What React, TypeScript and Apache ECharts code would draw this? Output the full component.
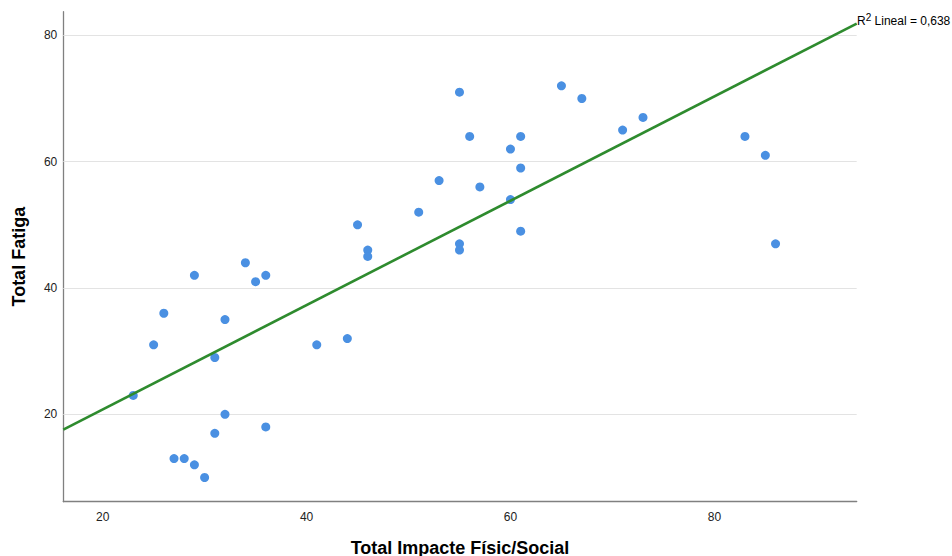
import React, { useEffect, useRef } from "react";
import * as echarts from "echarts";

const xValues = [23, 25, 26, 27, 28, 29, 29, 30, 31, 31, 32, 32, 34, 35, 36, 36, 41, 44, 45, 46, 46, 51, 53, 55, 55, 55, 56, 57, 60, 60, 61, 61, 61, 65, 67, 71, 73, 83, 85, 86];
const yValues = [23, 31, 36, 13, 13, 12, 42, 10, 29, 17, 35, 20, 44, 41, 42, 18, 31, 32, 50, 46, 45, 52, 57, 71, 47, 46, 64, 56, 62, 54, 64, 59, 49, 72, 70, 65, 67, 64, 61, 47];
const xTicks = [20, 40, 60, 80];
const yTicks = [20, 40, 60, 80];
const xRange = [16.14, 93.96];
const yRange = [6.17, 83.74];
const r2Label = "0,638";

const FONT = "'Liberation Sans', Arial, sans-serif";

function fit(xs: number[], ys: number[]) {
  const n = xs.length;
  const mx = xs.reduce((a, b) => a + b, 0) / n;
  const my = ys.reduce((a, b) => a + b, 0) / n;
  let sxy = 0, sxx = 0;
  for (let i = 0; i < n; i++) {
    sxy += (xs[i] - mx) * (ys[i] - my);
    sxx += (xs[i] - mx) ** 2;
  }
  const b = sxy / sxx;
  return { a: my - b * mx, b };
}

export default function App() {
  const ref = useRef<HTMLDivElement>(null);
  useEffect(() => {
    if (!ref.current) return;
    const chart = echarts.init(ref.current, null, { renderer: "svg" });
    const { a, b } = fit(xValues, yValues);
    const lineData = [
      [xRange[0], a + b * xRange[0]],
      [xRange[1], a + b * xRange[1]],
    ];
    const points = xValues.map((x, i) => [x, yValues[i]]);
    chart.setOption({
      animation: false,
      backgroundColor: "#ffffff",
      grid: {
        left: 63.3,
        right: 95.3,
        top: 11.7,
        bottom: 54.3,
        containLabel: false,
        outerBoundsMode: "none",
      },
      xAxis: {
        type: "value",
        min: xRange[0],
        max: xRange[1],
        name: "Total Impacte Físic/Social",
        nameLocation: "middle",
        nameGap: 37,
        nameTextStyle: { fontFamily: FONT, fontSize: 18, fontWeight: "bold", color: "#000" },
        axisLine: { show: true, lineStyle: { color: "#808080", width: 1.3 } },
        axisTick: { show: false },
        splitLine: { show: false },
        axisLabel: {
          customValues: xTicks,
          fontFamily: FONT,
          fontSize: 12,
          color: "#222",
          margin: 9,
        },
      },
      yAxis: {
        type: "value",
        min: yRange[0],
        max: yRange[1],
        name: "Total Fatiga",
        nameLocation: "middle",
        nameGap: 35,
        nameTextStyle: { fontFamily: FONT, fontSize: 18, fontWeight: "bold", color: "#000" },
        axisLine: { show: true, lineStyle: { color: "#808080", width: 1.3 } },
        axisTick: { show: false },
        splitLine: { show: false },
        axisLabel: {
          customValues: yTicks,
          fontFamily: FONT,
          fontSize: 12,
          color: "#222",
          margin: 6,
        },
      },
      series: [
        {
          type: "scatter",
          data: points,
          symbolSize: 9,
          itemStyle: { color: "#4a90e2", opacity: 1 },
          z: 3,
          markLine: {
            silent: true,
            symbol: "none",
            label: { show: false },
            lineStyle: { color: "#e3e3e3", width: 1, type: "solid" },
            data: yTicks.map((v) => ({ yAxis: v })),
            z: 1,
          },
        },
        {
          type: "line",
          data: lineData,
          symbol: "none",
          lineStyle: { color: "#2e8b2e", width: 2.6 },
          z: 4,
        },
      ],
      graphic: [
        {
          type: "text",
          left: 857,
          top: 12,
          style: {
            text: "{r|R}{s|2}{r| Lineal = " + r2Label + "}",
            rich: {
              r: { fontFamily: FONT, fontSize: 12, fill: "#000", verticalAlign: "bottom", lineHeight: 15 },
              s: { fontFamily: FONT, fontSize: 10, fill: "#000", verticalAlign: "top", lineHeight: 15 },
            },
          },
        },
      ],
    });
    return () => chart.dispose();
  }, []);
  return (
    <div
      ref={ref}
      style={{ position: "fixed", left: 0, top: 0, width: 952, height: 556, background: "#fff" }}
    />
  );
}
